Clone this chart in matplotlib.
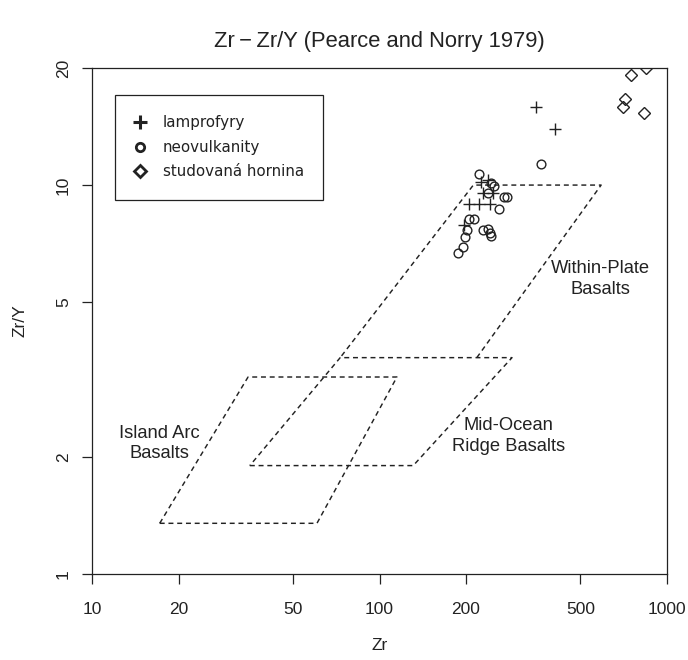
import matplotlib
matplotlib.use('Agg')
import matplotlib.pyplot as plt
from matplotlib.lines import Line2D

# ---------------- data ----------------
lamp_zr = [349, 407, 239, 225, 230, 249, 204, 222, 242, 196]
lamp_zry = [15.9, 13.9, 10.3, 10.2, 9.55, 9.55, 8.94, 8.94, 8.94, 7.89]

neo_zr = [222, 244, 250, 239, 270, 278, 261, 204, 213, 201, 198, 229, 239, 242, 245, 195, 187, 365]
neo_zry = [10.67, 10.1, 9.95, 9.55, 9.3, 9.3, 8.66, 8.16, 8.16, 7.66, 7.37, 7.66, 7.73, 7.51, 7.39, 6.92, 6.67, 11.3]

stud_zr = [748, 843, 714, 701, 832]
stud_zry = [19.2, 19.95, 16.6, 15.9, 15.3]

# field outlines (WPB bottom edge is shared with the MORB top edge)
iab_zr = [17.2, 60.6, 115, 34.9, 17.2]
iab_zry = [1.35, 1.35, 3.21, 3.21, 1.35]
morb_zr = [35.4, 131, 289, 73, 35.4]
morb_zry = [1.9, 1.9, 3.6, 3.6, 1.9]
wpb_zr = [218, 590, 212, 73]
wpb_zry = [3.6, 10, 10, 3.6]

x_ticks = [10, 20, 50, 100, 200, 500, 1000]
y_ticks = [1, 2, 5, 10, 20]
legend_labels = ["lamprofyry", "neovulkanity", "studovaná hornina"]

# ---------------- figure ----------------
W, H = 688, 660
ink = '#222222'
fig = plt.figure(figsize=(W / 100, H / 100), dpi=100)
L, R, T, B = 92, 667, 68, 574
ax = fig.add_axes([L / W, (H - B) / H, (R - L) / W, (B - T) / H])
ax.set_xscale('log')
ax.set_yscale('log')
ax.set_xlim(10, 1000)
ax.set_ylim(1, 20)

dash = (0, (3.4, 2.6))
for xs, ys in [(iab_zr, iab_zry), (morb_zr, morb_zry), (wpb_zr, wpb_zry)]:
    ax.plot(xs, ys, ls=dash, lw=1.05, color=ink)

ax.plot(lamp_zr, lamp_zry, ls='none', marker='+', ms=8.5, mew=1.0, color=ink)
ax.plot(neo_zr, neo_zry, ls='none', marker='o', ms=6.3, mew=1.0, mfc='none', mec=ink)
ax.plot(stud_zr, stud_zry, ls='none', marker='D', ms=6.2, mew=1.0, mfc='none', mec=ink)

lab_font = dict(family='Liberation Sans', size=12.5, color=ink)
ann_font = dict(family='Liberation Sans', size=13.2, color=ink)
ax.text(17.1, 2.165, "Island Arc\nBasalts", ha='center', va='center', linespacing=1.3, **ann_font)
ax.text(281, 2.26, "Mid-Ocean\nRidge Basalts", ha='center', va='center', linespacing=1.3, **ann_font)
ax.text(585, 5.73, "Within-Plate\nBasalts", ha='center', va='center', linespacing=1.3, **ann_font)

# axes styling
for s in ax.spines.values():
    s.set_linewidth(0.9)
    s.set_color(ink)
ax.minorticks_off()
ax.set_xticks(x_ticks)
ax.set_xticklabels([str(v) for v in x_ticks], fontdict=lab_font)
ax.set_yticks(y_ticks)
ax.set_yticklabels([str(v) for v in y_ticks], fontdict=lab_font, rotation=90, va='center')
ax.tick_params(axis='both', which='major', direction='out', length=7.2, width=0.9, color=ink)
ax.tick_params(axis='x', pad=13)
ax.tick_params(axis='y', pad=8)

ax.set_xlabel("Zr", fontdict=lab_font, va='center')
ax.xaxis.set_label_coords(0.5, (B - 645) / (B - T))
ax.set_ylabel("Zr/Y", fontdict=lab_font, va='center', ha='center', rotation=90)
ax.yaxis.set_label_coords((20 - L) / (R - L), 0.5)

fig.text(379.5 / W, 1 - 42 / H, "Zr\u2009\u2212\u2009Zr/Y (Pearce and Norry 1979)",
         ha='center', va='center', family='Liberation Sans', size=15.8, color=ink)

handles = [
    Line2D([], [], ls='none', marker='+', ms=9.5, mew=2.2, color=ink),
    Line2D([], [], ls='none', marker='o', ms=6, mew=2.0, mfc='none', mec=ink),
    Line2D([], [], ls='none', marker='D', ms=6, mew=2.0, mfc='none', mec=ink),
]
x0 = (115 - L) / (R - L)
w = 208 / (R - L)
ytop = (B - 95) / (B - T)
leg = ax.legend(handles, legend_labels, loc='upper left',
                bbox_to_anchor=(x0, ytop - 0.3, w, 0.3), mode='expand', borderaxespad=0,
                frameon=True, fancybox=False, framealpha=1, edgecolor=ink,
                borderpad=1.35, labelspacing=0.62, handlelength=0.65, handletextpad=1.15,
                prop=dict(family='DejaVu Sans', size=10.9))
leg.get_frame().set_linewidth(0.9)
for t in leg.get_texts():
    t.set_color(ink)

fig.savefig('out.png', dpi=100)
